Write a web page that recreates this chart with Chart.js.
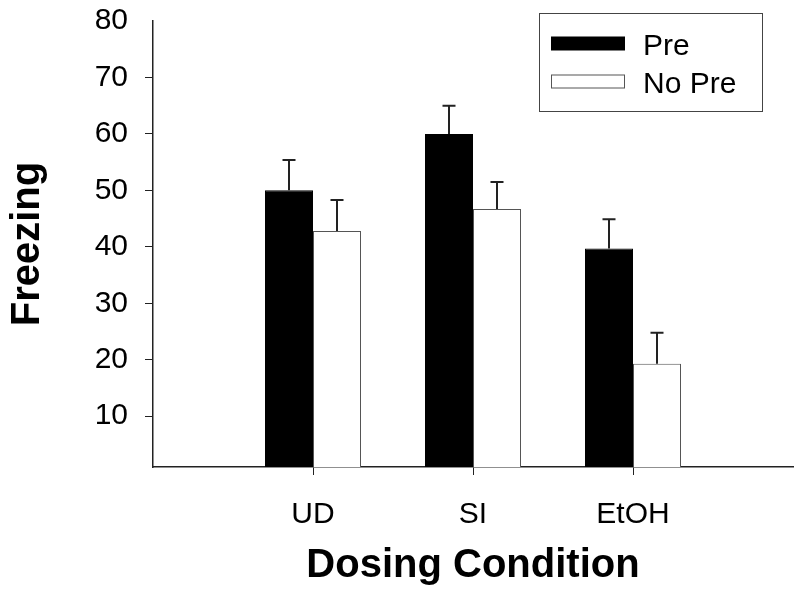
<!DOCTYPE html>
<html>
<head>
<meta charset="utf-8">
<script src="https://cdn.jsdelivr.net/npm/chart.js@4.4.1/dist/chart.umd.min.js"></script>
<style>
  html, body { margin: 0; padding: 0; background: #fff; }
  #wrap { width: 800px; height: 602px; }
</style>
</head>
<body>
<div id="wrap"><canvas id="myChart" width="800" height="602"></canvas></div>
<script>
// data
const categories = ['', 'UD', 'SI', 'EtOH', ''];
const preValues = [null, 50, 60, 39.7, null];
const preErrors = [null, 5.4, 5.0, 5.2, null];
const noPreValues = [null, 42.8, 46.7, 19.3, null];
const noPreErrors = [null, 5.5, 4.8, 5.5, null];
const yTicks = [10, 20, 30, 40, 50, 60, 70, 80];

const FONT = 'Arial, "Liberation Sans", sans-serif';

// upward-only error bars
const errorBars = {
    id: 'errorBars',
    afterDatasetsDraw(chart) {
        const ctx = chart.ctx;
        const y = chart.scales.y;
        ctx.save();
        ctx.strokeStyle = '#222';
        ctx.lineWidth = 2;
        chart.data.datasets.forEach((ds, i) => {
            const meta = chart.getDatasetMeta(i);
            meta.data.forEach((bar, j) => {
                const err = ds.errors[j];
                if (ds.data[j] == null || err == null) return;
                const top = y.getPixelForValue(ds.data[j] + err);
                ctx.beginPath();
                ctx.moveTo(bar.x, bar.y);
                ctx.lineTo(bar.x, top);
                ctx.moveTo(bar.x - 6.5, top);
                ctx.lineTo(bar.x + 6.5, top);
                ctx.stroke();
            });
        });
        ctx.restore();
    }
};

// boxed legend inside the plot, top right
const boxLegend = {
    id: 'boxLegend',
    afterDraw(chart) {
        const ctx = chart.ctx;
        ctx.save();
        ctx.strokeStyle = '#444';
        ctx.lineWidth = 1;
        ctx.strokeRect(539.5, 13.5, 223, 98);
        ctx.font = '30px ' + FONT;
        ctx.textBaseline = 'middle';
        chart.data.datasets.forEach((ds, i) => {
            const yy = 43.5 + i * 38;
            ctx.fillStyle = ds.backgroundColor;
            ctx.fillRect(551.5, yy - 6.5, 73, 13);
            ctx.strokeStyle = ds.borderColor;
            ctx.strokeRect(551.5, yy - 6.5, 73, 13);
            ctx.fillStyle = '#000';
            ctx.fillText(ds.label, 643, yy + 3);
        });
        ctx.restore();
    }
};

const ctx = document.getElementById('myChart').getContext('2d');
const myChart = new Chart(ctx, {
    type: 'bar',
    data: {
        labels: categories,
        datasets: [{
            label: 'Pre',
            data: preValues,
            errors: preErrors,
            backgroundColor: '#000',
            borderColor: '#000',
            borderWidth: 1
        }, {
            label: 'No Pre',
            data: noPreValues,
            errors: noPreErrors,
            backgroundColor: '#fff',
            borderColor: '#555',
            borderWidth: 1
        }]
    },
    options: {
        responsive: false,
        animation: false,
        events: [],
        layout: { padding: { top: 21, right: 7, left: 0, bottom: 0 } },
        categoryPercentage: 0.6,
        barPercentage: 1.0,
        plugins: {
            legend: { display: false },
            tooltip: { enabled: false }
        },
        scales: {
            x: {
                offset: false,
                grid: {
                    offset: false,
                    drawOnChartArea: false,
                    tickLength: 8,
                    color: c => (c.tick && c.tick.label) ? '#222' : 'rgba(0,0,0,0)'
                },
                border: { color: '#222', width: 1.5 },
                ticks: {
                    color: '#000',
                    font: { family: FONT, size: 30 },
                    padding: 22,
                    maxRotation: 0,
                    autoSkip: false
                },
                title: {
                    display: true,
                    text: 'Dosing Condition',
                    color: '#000',
                    font: { family: FONT, size: 40, weight: 'bold' },
                    padding: { top: 0, bottom: 12 }
                },
                afterFit: s => {
                    s.height = 135;
                    s.paddingLeft = 0;
                    s.paddingRight = 0;
                }
            },
            y: {
                min: 1,
                max: 80,
                afterBuildTicks: s => { s.ticks = yTicks.map(v => ({ value: v })); },
                grid: {
                    drawOnChartArea: false,
                    tickLength: 8,
                    color: c => (c.tick && c.tick.value < 80) ? '#222' : 'rgba(0,0,0,0)'
                },
                border: { color: '#222', width: 1.5 },
                ticks: {
                    color: '#000',
                    font: { family: FONT, size: 30 },
                    padding: 17
                },
                title: {
                    display: true,
                    text: 'Freezing',
                    color: '#000',
                    font: { family: FONT, size: 40, weight: 'bold' },
                    padding: { top: 4, bottom: 0 }
                },
                afterFit: s => {
                    s.width = 153;
                    s.paddingTop = 0;
                    s.paddingBottom = 0;
                }
            }
        }
    },
    plugins: [errorBars, boxLegend]
});
</script>
</body>
</html>
